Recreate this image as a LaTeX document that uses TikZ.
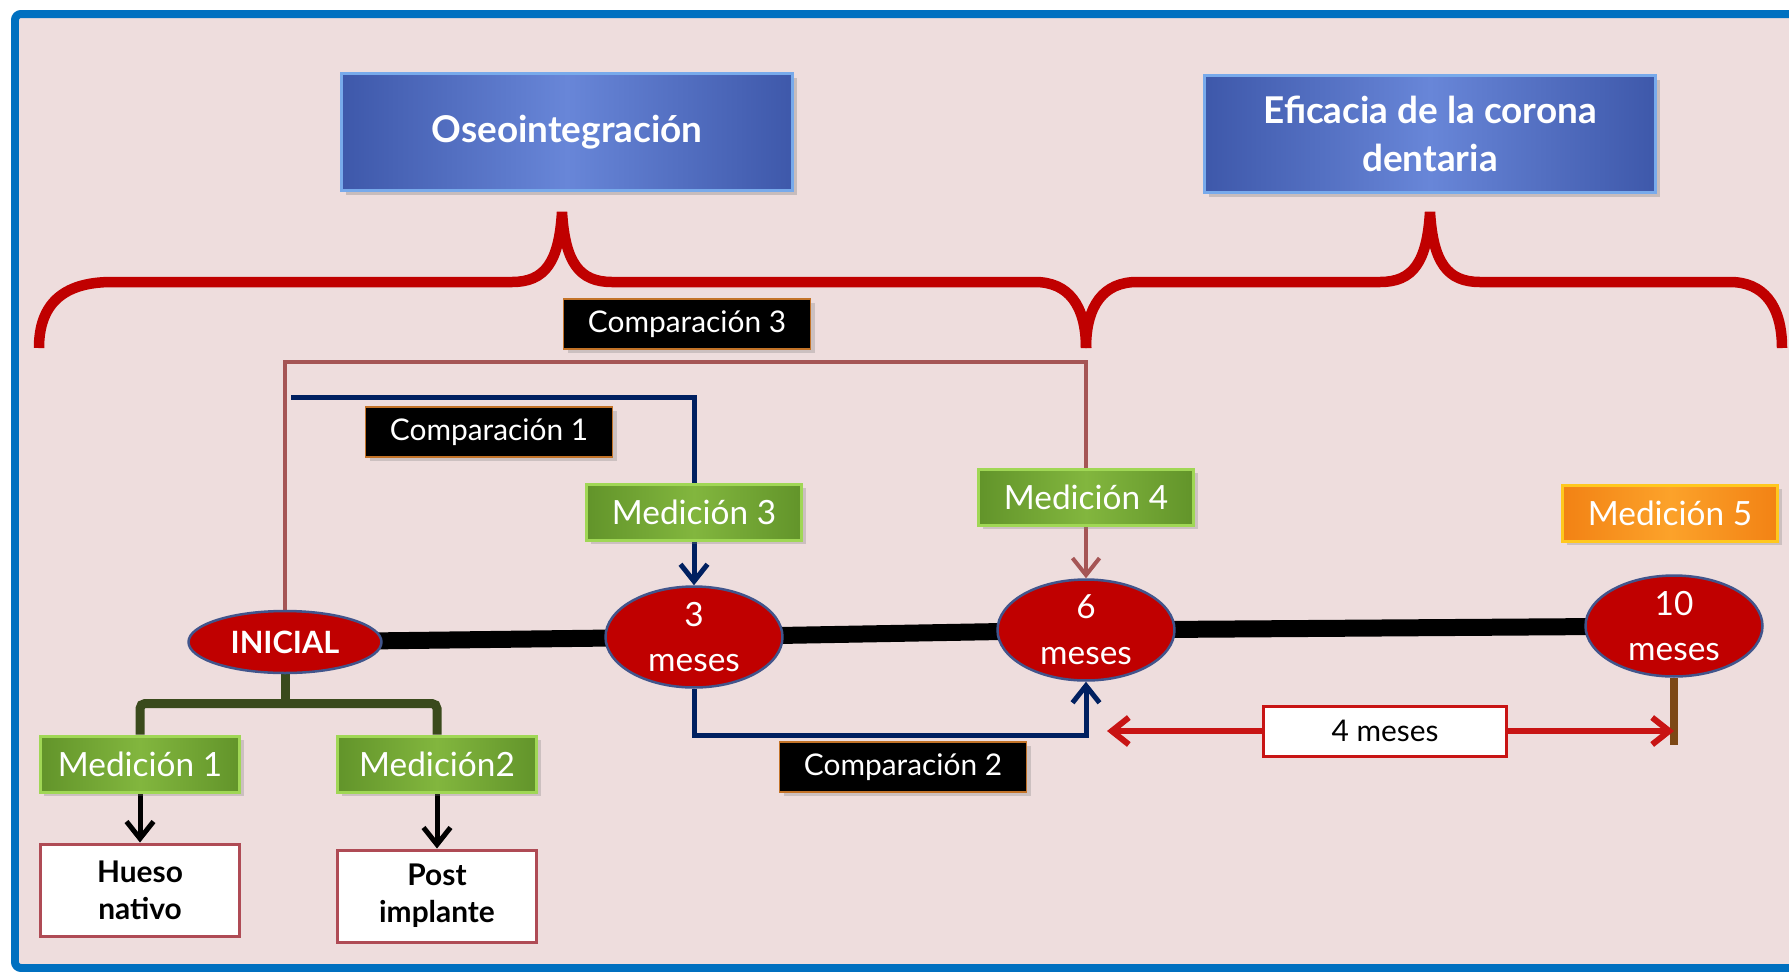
\documentclass[tikz,border=0pt]{standalone}
\usepackage{fontspec}
\setmainfont{Lato}
\usetikzlibrary{arrows.meta,positioning,shapes.geometric,shadows,calc,backgrounds}
\definecolor{pinkbg}{RGB}{238,221,221}
\definecolor{frameblue}{RGB}{0,112,192}
\definecolor{titlemid}{RGB}{104,134,216}
\definecolor{titleedge}{RGB}{62,88,170}
\definecolor{titlerim}{RGB}{120,170,235}
\definecolor{greenmid}{RGB}{130,182,62}
\definecolor{greenedge}{RGB}{98,148,42}
\definecolor{greenrim}{RGB}{160,215,85}
\definecolor{orangemid}{RGB}{252,162,42}
\definecolor{orangeedge}{RGB}{242,130,20}
\definecolor{orangerim}{RGB}{255,200,30}
\definecolor{stagered}{RGB}{192,0,0}
\definecolor{stagerim}{RGB}{65,85,140}
\definecolor{navy}{RGB}{0,32,96}
\definecolor{rosebrown}{RGB}{165,85,85}
\definecolor{olive}{RGB}{58,74,28}
\definecolor{tickbrown}{RGB}{125,72,22}
\definecolor{bracered}{RGB}{192,0,0}
\definecolor{arrowred}{RGB}{200,20,20}
\definecolor{outrim}{RGB}{175,75,85}
\definecolor{tagrim}{RGB}{195,115,40}
\tikzset{
  >={Straight Barb[length=3.4mm,width=5.4mm]},
  titlebox/.style={left color=titleedge,right color=titleedge,middle color=titlemid,
    draw=titlerim,line width=0.6mm,minimum width=9.02cm,minimum height=2.34cm,
    text=white,align=center,font=\fontsize{21}{27}\selectfont\bfseries,
    drop shadow={opacity=0.35}},
  medbox/.style={left color=#1edge,right color=#1edge,middle color=#1mid,draw=#1rim,
    line width=0.6mm,minimum width=4.3cm,minimum height=1.12cm,text=white,
    font=\fontsize{19}{22}\selectfont,drop shadow={opacity=0.3}},
  medbox/.default=green,
  cmptag/.style={fill=black,draw=tagrim,line width=0.3mm,minimum width=4.94cm,
    minimum height=1cm,text=white,font=\fontsize{17}{20}\selectfont,
    drop shadow={opacity=0.3}},
  stage/.style={ellipse,fill=stagered,draw=stagerim,line width=0.5mm,
    minimum width=3.54cm,minimum height=2.02cm,inner sep=0pt,text=white,
    align=center,font=\fontsize{19}{26}\selectfont},
  outbox/.style={fill=white,draw=outrim,line width=0.6mm,minimum width=4cm,
    minimum height=1.84cm,align=center,font=\fontsize{17}{21}\selectfont\bfseries},
  spanbox/.style={fill=white,draw=arrowred,line width=0.6mm,minimum width=4.88cm,
    minimum height=1cm,font=\fontsize{17}{20}\selectfont},
  timeline/.style={line width=3.4mm,black},
  cmpthree/.style={->,draw=rosebrown,line width=0.8mm},
  cmpnavy/.style={->,draw=navy,line width=1mm},
  branch/.style={draw=olive,line width=1.8mm,rounded corners=1mm},
  meas/.style={->,black,line width=1mm},
  span/.style={->,draw=arrowred,line width=1.2mm},
  tickline/.style={draw=tickbrown,line width=1.6mm},
  bracepath/.style={draw=bracered,line width=2.1mm},
}

\begin{document}
\begin{tikzpicture}[x=0.02cm,y=-0.02cm]
  \useasboundingbox (0,0) rectangle (1789,971);
  % titles
  \node[titlebox] (oseo) at (567,132) {Oseointegración};
  \node[titlebox] (efic) at (1430,134) {Eficacia de la corona\\dentaria};
  \draw[bracepath] (39,348) .. controls (39,305) and (62,282) .. (112,282) -- (512,282)
    .. controls (545,282) and (559,262) .. (562,212) .. controls (565,262) and (579,282) .. (612,282)
    -- (1035,282) .. controls (1068,282) and (1086,305) .. (1086,348);
  \draw[bracepath] (1086,348) .. controls (1086,305) and (1104,282) .. (1137,282) -- (1380,282)
    .. controls (1413,282) and (1427,262) .. (1430,212) .. controls (1433,262) and (1447,282) .. (1480,282)
    -- (1730,282) .. controls (1763,282) and (1782,305) .. (1782,348);
  % labels and measurements
  \node[cmptag] (cmp3) at (687,324) {Comparación 3};
  \node[cmptag] (cmp1) at (489,432) {Comparación 1};
  \node[cmptag] (cmp2) at (903,767) {Comparación 2};
  \node[medbox] (med3) at (694,512) {Medición 3};
  \node[medbox] (med4) at (1086,497) {Medición 4};
  \node[medbox=orange] (med5) at (1670,513) {Medición 5};
  \node[medbox,minimum width=4cm] (med1) at (140,764) {Medición 1};
  \node[medbox,minimum width=3.98cm] (med2) at (437,764) {Medición2};
  \node[outbox] (hueso) at (140,890) {Hueso\\nativo};
  \node[outbox] (post) at (437,896) {Post\\implante};
  % timeline stages
  \node[stage,minimum width=3.86cm,minimum height=1.24cm,font=\fontsize{17.5}{20}\selectfont\bfseries] (inicial) at (285,642) {INICIAL};
  \node[stage] (m3) at (694,637) {3\\meses};
  \node[stage] (m6) at (1086,630) {6\\meses};
  \node[stage] (m10) at (1674,626) {10\\meses};
  \node[spanbox] (four) at (1385,731) {4 meses};
  \coordinate (c3top) at (0,362);
  \coordinate (c1start) at (291,397);
  \coordinate (spanleft) at (1107,731);
  \begin{scope}[on background layer]
    \fill[white] (0,0) rectangle (1789,971);
    \draw[frameblue,line width=1.6mm,fill=pinkbg,rounded corners=1.2mm] (15,14) rectangle (1810,968);
    \draw[timeline] (inicial.center) -- (m3.center) -- (m6.center) -- (m10.center);
    \draw[cmpthree] (inicial.north) -- (inicial.north |- c3top) -| (m6.north);
    \draw[cmpnavy] (c1start) -| (m3.north);
    \draw[cmpnavy] (m3.south) -- ++(0,47) -| (m6.south);
    \draw[branch] (inicial.south) -- ++(0,34);
    \draw[branch] (med1.north) -- ++(0,-31) -| (med2.north);
    \draw[meas] (med1) -- (hueso);
    \draw[meas] (med2) -- (post);
    \draw[span] (four.west) -- (spanleft);
    \draw[tickline] (m10.south) -- ++(0,67) coordinate (tickfoot);
    \draw[span] (four.east) -- (four.east -| tickfoot);
  \end{scope}
\end{tikzpicture}
\end{document}
